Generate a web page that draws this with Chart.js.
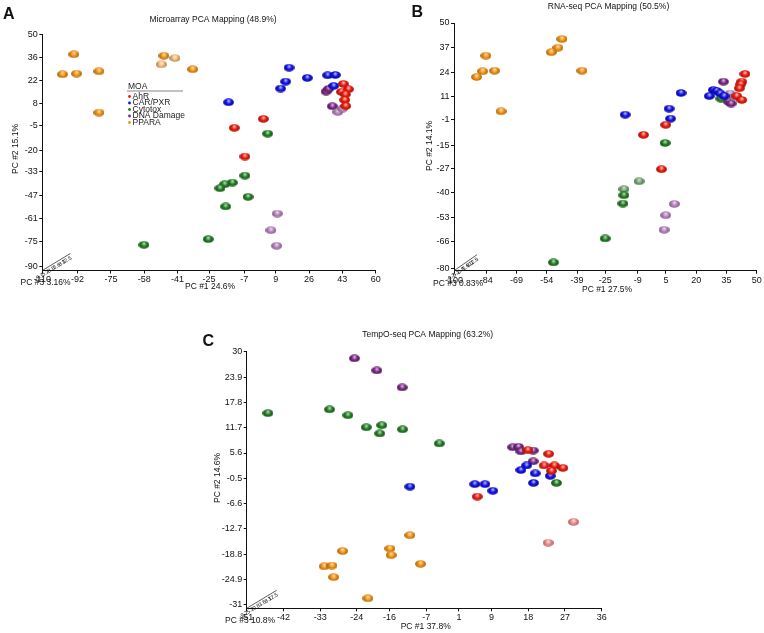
<!DOCTYPE html>
<html>
<head>
<meta charset="utf-8">
<script src="https://cdn.jsdelivr.net/npm/chart.js@4.4.1/dist/chart.umd.min.js"></script>
<style>
  html, body { margin: 0; padding: 0; background: #fff; }
  body { position: relative; width: 764px; height: 633px; overflow: hidden; }
  canvas { position: absolute; }
</style>
</head>
<body>
<canvas id="chart-a" width="390" height="300" style="left:0;top:0"></canvas>
<canvas id="chart-b" width="384" height="300" style="left:380px;top:0"></canvas>
<canvas id="chart-c" width="420" height="333" style="left:200px;top:300px"></canvas>
<script>
const moaLabels = ["AhR", "CAR/PXR", "Cytotox", "DNA Damage", "PPARA"];

// Microarray (PC1, PC2)
const microarrayAhR = [[-12.1, -6.4], [2.7, -1.0], [-6.7, -23.7], [43.5, 20.1], [46.1, 16.9], [42.5, 15.3], [44.5, 13.8], [44.2, 10.4], [44.7, 6.8]];
const microarrayCarPxr = [[-15.0, 9.0], [15.8, 29.9], [14.1, 21.5], [11.5, 17.3], [25.1, 23.7], [35.5, 25.3], [39.4, 25.5], [38.6, 18.9]];
const microarrayCytotox = [[4.9, -9.9], [-6.7, -35.2], [-5.1, -48.0], [-13.1, -39.4], [-17.0, -40.4], [-19.4, -42.8], [-16.5, -53.8], [-25.4, -73.5], [-58.2, -76.9]];
const microarrayDnaDamage = [[34.7, 15.5], [36.0, 17.1], [37.9, 6.6], [40.7, 3.2], [43.1, 5.2], [9.8, -58.1], [6.6, -68.1], [9.5, -77.5]];
const microarrayPpara = [[-93.9, 37.9], [-99.7, 25.9], [-92.5, 26.3], [-81.1, 27.7], [-81.1, 2.8], [-48.0, 37.1], [-49.3, 31.9], [-42.4, 35.7], [-33.3, 28.9]];
const microarrayXTicks = [-110, -92, -75, -58, -41, -25, -7, 9, 26, 43, 60];
const microarrayYTicks = [-90, -75, -61, -47, -33, -20, -5, 8, 22, 36, 50];

// RNA-seq (PC1, PC2)
const rnaseqAhR = [[-6.1, -9.3], [4.9, -4.0], [2.8, -27.5], [44.2, 23.0], [42.6, 18.9], [42.1, 17.5], [41.4, 15.4], [40.1, 11.3], [42.6, 9.2]];
const rnaseqCarPxr = [[-15.2, 1.4], [6.6, 4.6], [7.3, -0.7], [12.5, 12.9], [26.5, 11.3], [28.5, 14.5], [30.2, 14.0], [31.8, 12.7], [33.8, 11.3]];
const rnaseqCytotox = [[32.3, 9.9], [4.6, -13.6], [-8.3, -33.9], [-15.8, -38.1], [-15.8, -41.3], [-16.3, -45.7], [-25.1, -64.2], [-50.7, -76.9]];
const rnaseqDnaDamage = [[33.5, 18.9], [36.1, 8.2], [37.3, 7.3], [36.8, 12.6], [38.8, 10.8], [9.2, -45.9], [4.9, -51.9], [4.1, -59.6]];
const rnaseqPpara = [[-84.2, 32.7], [-85.8, 24.4], [-79.9, 24.7], [-88.8, 21.4], [-76.7, 3.2], [-46.5, 41.5], [-48.5, 36.9], [-51.8, 34.5], [-36.6, 24.7]];
const rnaseqXTicks = [-100, -84, -69, -54, -39, -25, -9, 5, 20, 35, 50];
const rnaseqYTicks = [-80, -66, -53, -40, -27, -15, -1, 11, 24, 37, 50];

// TempO-seq (PC1, PC2)
const tempoAhR = [[17.9, 6.3], [23.0, 5.4], [21.9, 2.6], [24.4, 2.6], [23.7, 1.3], [26.5, 2.0], [5.5, -4.9], [29.1, -11.0], [22.9, -16.0]];
const tempoCarPxr = [[-11.0, -2.5], [4.9, -1.9], [7.4, -1.9], [9.3, -3.5], [16.2, 1.5], [17.6, 2.6], [19.7, 0.7], [19.3, -1.6], [23.4, 0.1]];
const tempoCytotox = [[-45.8, 15.2], [-30.7, 16.1], [-26.2, 14.7], [-21.7, 11.8], [-17.9, 12.3], [-18.4, 10.3], [-12.8, 11.3], [-3.8, 7.9], [24.9, -1.6]];
const tempoDnaDamage = [[-24.6, 28.4], [-19.1, 25.5], [-12.9, 21.4], [14.2, 7.0], [15.6, 7.1], [16.2, 6.0], [19.2, 6.2], [19.2, 3.6]];
const tempoPpara = [[-11.0, -14.2], [-27.5, -18.0], [-15.9, -17.4], [-15.6, -19.0], [-8.4, -21.1], [-32.0, -21.7], [-30.1, -21.5], [-29.7, -24.3], [-21.3, -29.4]];
const tempoXTicks = [-51, -42, -33, -24, -16, -7, 1, 9, 18, 27, 36];
const tempoYTicks = [-31, -24.9, -18.8, -12.7, -6.6, -0.5, 5.6, 11.7, 17.8, 23.9, 30];

// PC #3 axis labels (drawn small along the depth axis)
const pc3Labels = ["-9.7", "-5.2", "-0.8", "3.6", "8.1", "12.5"];

const FONT = "'Liberation Sans', Arial, sans-serif";
const moaColors = ["#ee1a0c", "#1010e6", "#207e20", "#7a2686", "#f4920f"];
const moaFaded = ["#f08e8a", "#8484ee", "#74a474", "#b684be", "#f5bb7a"];

function shade(hex, amt) {
  const n = parseInt(hex.slice(1), 16);
  let r = (n >> 16) & 255, g = (n >> 8) & 255, b = n & 255;
  if (amt >= 0) {
    r += (255 - r) * amt; g += (255 - g) * amt; b += (255 - b) * amt;
  } else {
    r *= 1 + amt; g *= 1 + amt; b *= 1 + amt;
  }
  return `rgb(${Math.round(r)},${Math.round(g)},${Math.round(b)})`;
}

// little shaded ellipse used as the point glyph
function sphere(color) {
  const c = document.createElement("canvas");
  c.width = 11; c.height = 8;
  const g = c.getContext("2d");
  const grad = g.createRadialGradient(5.6, 2.6, 0.3, 5.5, 4, 6);
  grad.addColorStop(0, shade(color, 0.7));
  grad.addColorStop(0.4, color);
  grad.addColorStop(1, shade(color, -0.45));
  g.fillStyle = grad;
  g.beginPath();
  g.ellipse(5.5, 4, 5.4, 3.8, 0, 0, Math.PI * 2);
  g.fill();
  return c;
}

const solidGlyphs = moaColors.map(sphere);
const fadedGlyphs = moaFaded.map(sphere);

const decorPlugin = {
  id: "decor",
  afterDraw(chart, args, opts) {
    const { ctx, chartArea: area } = chart;
    ctx.save();
    ctx.fillStyle = "#111";

    ctx.font = `bold 16px ${FONT}`;
    ctx.textAlign = "left";
    ctx.textBaseline = "alphabetic";
    ctx.fillText(opts.letter, opts.letterPos[0], opts.letterPos[1]);

    ctx.font = `8.5px ${FONT}`;
    ctx.textAlign = "center";
    ctx.textBaseline = "middle";
    ctx.fillText(opts.title, opts.titlePos[0], opts.titlePos[1]);
    ctx.fillText(opts.xTitle, opts.xTitlePos[0], opts.xTitlePos[1]);

    ctx.save();
    ctx.translate(opts.yTitlePos[0], opts.yTitlePos[1]);
    ctx.rotate(-Math.PI / 2);
    ctx.fillText(opts.yTitle, 0, 0);
    ctx.restore();

    // depth axis (PC #3)
    const [dx, dy] = opts.depth;
    ctx.strokeStyle = "#333";
    ctx.lineWidth = 0.8;
    ctx.beginPath();
    ctx.moveTo(area.left, area.bottom);
    ctx.lineTo(area.left + dx, area.bottom - dy);
    ctx.stroke();
    const ang = Math.atan2(-dy, dx);
    ctx.font = `5.5px ${FONT}`;
    ctx.textAlign = "right";
    pc3Labels.forEach((lab, i) => {
      const t = i / (pc3Labels.length - 1);
      ctx.save();
      ctx.translate(area.left + dx * t + 1, area.bottom - dy * t + 4);
      ctx.rotate(ang);
      ctx.fillText(lab, 0, 0);
      ctx.restore();
    });

    ctx.font = `8.5px ${FONT}`;
    ctx.textAlign = "left";
    ctx.fillText(opts.zTitle, opts.zTitlePos[0], opts.zTitlePos[1]);

    if (opts.legend) {
      const [lx, ly] = opts.legend;
      ctx.font = `8.5px ${FONT}`;
      ctx.textAlign = "left";
      ctx.textBaseline = "middle";
      ctx.fillStyle = "#222";
      ctx.fillText("MOA", lx, ly);
      ctx.strokeStyle = "#666";
      ctx.lineWidth = 0.8;
      ctx.beginPath();
      ctx.moveTo(lx - 1, ly + 4.5);
      ctx.lineTo(lx + 55, ly + 4.5);
      ctx.stroke();
      chart.data.datasets.forEach((ds, i) => {
        const y = ly + 10 + i * 6.5;
        ctx.fillStyle = moaColors[i];
        ctx.beginPath();
        ctx.arc(lx + 1.5, y, 1.4, 0, Math.PI * 2);
        ctx.fill();
        ctx.fillStyle = "#222";
        ctx.fillText(ds.label, lx + 4.5, y);
      });
    }
    ctx.restore();
  },
};

function makeChart(id, cfg) {
  const el = document.getElementById(id);
  const W = el.width, H = el.height;
  const axisStyle = {
    grid: { display: true, drawOnChartArea: false, drawTicks: true, tickLength: 3, color: "#111" },
    border: { display: true, color: "#111", width: 1 },
  };
  return new Chart(el, {
    type: "scatter",
    data: {
      datasets: cfg.series.map((pts, i) => ({
        label: moaLabels[i],
        data: pts.map(([x, y]) => ({ x, y })),
        pointStyle: (c) => ((cfg.faded[i] || []).includes(c.dataIndex) ? fadedGlyphs[i] : solidGlyphs[i]),
        pointRadius: 5,
        backgroundColor: moaColors[i],
      })),
    },
    options: {
      responsive: false,
      animation: false,
      events: [],
      layout: {
        padding: { left: 0, top: cfg.area.top, right: W - cfg.area.right, bottom: H - cfg.area.bottom - 20 },
      },
      plugins: {
        legend: { display: false },
        tooltip: { enabled: false },
        decor: cfg.decor,
      },
      scales: {
        x: {
          type: "linear",
          min: cfg.xRange[0],
          max: cfg.xRange[1],
          afterBuildTicks: (s) => { s.ticks = cfg.xTicks.map((v) => ({ value: v })); },
          afterFit: (s) => { s.height = 20; },
          ticks: { font: { size: 9, family: FONT }, color: "#111", padding: 1, maxRotation: 0, autoSkip: false, callback: (v) => String(v) },
          ...axisStyle,
        },
        y: {
          type: "linear",
          min: cfg.yRange[0],
          max: cfg.yRange[1],
          afterBuildTicks: (s) => { s.ticks = cfg.yTicks.map((v) => ({ value: v })); },
          afterFit: (s) => { s.width = cfg.area.left; },
          ticks: { font: { size: 9, family: FONT }, color: "#111", padding: 1.5, autoSkip: false, callback: (v) => String(v) },
          ...axisStyle,
        },
      },
    },
    plugins: [decorPlugin],
  });
}

makeChart("chart-a", {
  series: [microarrayAhR, microarrayCarPxr, microarrayCytotox, microarrayDnaDamage, microarrayPpara],
  faded: [[], [], [], [3, 4, 5, 6, 7], [6, 7]],
  xTicks: microarrayXTicks, yTicks: microarrayYTicks,
  xRange: [-110, 60], yRange: [-92.4, 50],
  area: { left: 42.3, right: 375.7, top: 34.3, bottom: 270.5 },
  decor: {
    letter: "A", letterPos: [3, 19],
    title: "Microarray PCA Mapping (48.9%)", titlePos: [213, 19.5],
    xTitle: "PC #1 24.6%", xTitlePos: [210, 286.5],
    yTitle: "PC #2 15.1%", yTitlePos: [15.5, 149],
    zTitle: "PC #3 3.16%", zTitlePos: [20.5, 283],
    depth: [28, 17],
    legend: [128, 86.5],
  },
});

makeChart("chart-b", {
  series: [rnaseqAhR, rnaseqCarPxr, rnaseqCytotox, rnaseqDnaDamage, rnaseqPpara],
  faded: [[], [], [2, 3], [3, 4, 5, 6, 7], []],
  xTicks: rnaseqXTicks, yTicks: rnaseqYTicks,
  xRange: [-100, 50], yRange: [-81.3, 50],
  area: { left: 74, right: 376.7, top: 23, bottom: 270.7 },
  decor: {
    letter: "B", letterPos: [31.5, 16.5],
    title: "RNA-seq PCA Mapping (50.5%)", titlePos: [228.5, 6.5],
    xTitle: "PC #1 27.5%", xTitlePos: [227, 290],
    yTitle: "PC #2 14.1%", yTitlePos: [49.5, 146],
    zTitle: "PC #3 0.83%", zTitlePos: [53, 284],
    depth: [23, 16],
    legend: null,
  },
});

makeChart("chart-c", {
  series: [tempoAhR, tempoCarPxr, tempoCytotox, tempoDnaDamage, tempoPpara],
  faded: [[7, 8], [], [], [], []],
  xTicks: tempoXTicks, yTicks: tempoYTicks,
  xRange: [-51, 36], yRange: [-31.8, 30],
  area: { left: 46.7, right: 401.7, top: 51.7, bottom: 308.3 },
  decor: {
    letter: "C", letterPos: [2.5, 46],
    title: "TempO-seq PCA Mapping (63.2%)", titlePos: [227.7, 34.5],
    xTitle: "PC #1 37.8%", xTitlePos: [225.7, 327],
    yTitle: "PC #2 14.6%", yTitlePos: [18, 178],
    zTitle: "PC #3 10.8%", zTitlePos: [25, 320.5],
    depth: [30, 18],
    legend: null,
  },
});
</script>
</body>
</html>
